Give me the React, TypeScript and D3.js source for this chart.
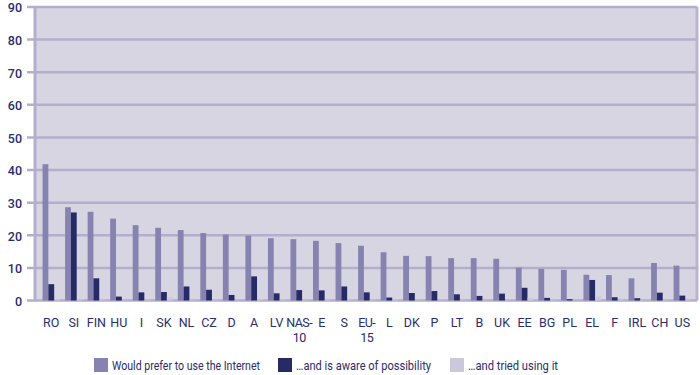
import React from "react";
import * as d3 from "d3";

const categories = ["RO","SI","FIN","HU","I","SK","NL","CZ","D","A","LV","NAS-10","E","S","EU-15","L","DK","P","LT","B","UK","EE","BG","PL","EL","F","IRL","CH","US"];
const prefer = [41.8,28.6,27.2,25.1,23.1,22.3,21.6,20.7,20.2,19.9,19.1,18.8,18.3,17.6,16.8,14.8,13.7,13.6,13.0,13.0,12.8,10.1,9.7,9.4,7.9,7.8,6.8,11.5,10.7];
const aware = [5.0,27.0,6.8,1.2,2.5,2.6,4.3,3.3,1.7,7.4,2.2,3.2,3.1,4.3,2.5,0.9,2.3,2.9,1.9,1.4,2.1,3.9,0.8,0.4,6.3,1.0,0.7,2.4,1.5];
const tried = [0.3,0.4,0.2,0.1,0.2,1.0,0.2,0.2,0.1,0.3,0.3,0.2,0.2,0.2,0.2,0.3,0.1,0.1,0.1,0.1,0.1,0.8,0.2,0.1,1.2,0.2,0.1,0.2,0.2];
const seriesNames = ["Would prefer to use the Internet", "…and is aware of possibility", "…and tried using it"];
const yTicks = [0,10,20,30,40,50,60,70,80,90];

const colors = ["#8683b0", "#262a66", "#cbc8dc"];
const textColor = "#2b2d6e";
const font = "Roboto, 'Open Sans', sans-serif";

export default function App() {
  const W = 700, H = 375;
  const left = 35, right = 697, top = 7, bottom = 300.5;
  const x = d3.scaleBand<string>().domain(categories).range([left + 5, right - 3.4]).paddingOuter(0).paddingInner(0);
  const y = d3.scaleLinear().domain([0, 90]).range([bottom, top]);
  const inner = d3.scaleBand<number>().domain([0, 1, 2]).range([0, x.bandwidth()]).paddingInner(0).paddingOuter(0.44);
  const series = [prefer, aware, tried];
  const legendX = [94, 278, 450];
  const legendW = [148, 135, 90];

  return (
    <svg width={W} height={H} style={{ position: "absolute", left: 0, top: 0 }}>
      <rect x={left} y={top} width={right - left} height={bottom - top} fill="#d8d5e3" />
      <line x1={right} x2={right} y1={top} y2={bottom} stroke="#b9b4d2" strokeWidth={3} />
      {yTicks.map((t) => (
        <g key={t}>
          <line x1={27} x2={right} y1={y(t)} y2={y(t)} stroke="#b3aecb" strokeWidth={2.5} />
          <text x={22} y={y(t) + 1} dy="0.35em" textAnchor="end" fontSize={12.5} fontWeight={500} fill={textColor} fontFamily={font}>{t}</text>
        </g>
      ))}
      <line x1={left} x2={left} y1={top} y2={bottom + 1} stroke="#b3aecb" strokeWidth={3} />
      {series.map((vals, si) =>
        categories.map((c, i) => (
          <rect key={si + "-" + c}
            x={(x(c) as number) + (inner(si) as number)}
            y={y(vals[i])}
            width={inner.bandwidth()}
            height={bottom - y(vals[i])}
            fill={colors[si]} />
        ))
      )}
      {categories.map((c) => {
        const parts = c.split("-");
        const cx = (x(c) as number) + x.bandwidth() / 2;
        const lines = parts.length === 2 ? [parts[0] + "-", parts[1]] : [c];
        return (
          <g key={c}>
            {lines.map((l, li) => (
              <text key={li} x={cx} y={327 + li * 14.5} textAnchor="middle" fontSize={12.5} fill={textColor} fontFamily={font}
                letterSpacing={lines.length === 2 ? -0.6 : 0}>{l}</text>
            ))}
          </g>
        );
      })}
      {seriesNames.map((n, i) => (
        <g key={n}>
          <rect x={legendX[i]} y={358} width={14} height={14} fill={colors[i]} />
          <text x={legendX[i] + 18} y={369.5} fontSize={13.5} fill={textColor} fontFamily={font}
            textLength={legendW[i]} lengthAdjust="spacingAndGlyphs">{n}</text>
        </g>
      ))}
    </svg>
  );
}
